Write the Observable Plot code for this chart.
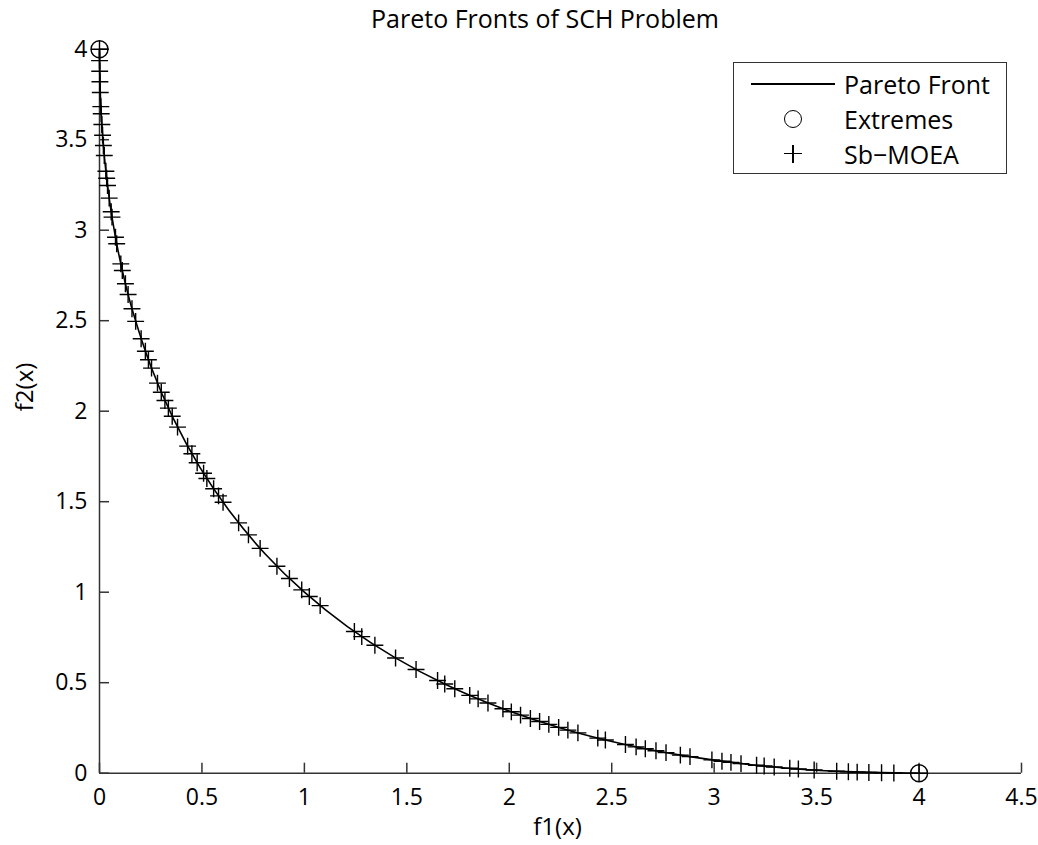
<!DOCTYPE html>
<html>
<head>
<meta charset="utf-8">
<script src="https://cdn.jsdelivr.net/npm/d3@7"></script>
<script src="https://cdn.jsdelivr.net/npm/@observablehq/plot@0.6"></script>
<style>
  html, body { margin: 0; padding: 0; background: #fff; }
  #wrap { position: relative; width: 1038px; height: 845px; font-family: "Open Sans", sans-serif; color: #000; }
  #title { position: absolute; left: 345px; width: 400px; top: 0; height: 36px; line-height: 36px; text-align: center; font-size: 25px; z-index: 2; }
  #chart { position: absolute; left: 0; top: 0; }
  #legend { position: absolute; left: 733px; top: 62px; width: 272px; height: 110px; border: 1.5px solid #333; background: #fff; font-size: 25px; z-index: 2; }
  .row { position: absolute; left: 0; height: 34px; width: 100%; }
  .row .lab { position: absolute; left: 110px; top: 0; line-height: 34px; }
  .sym { position: absolute; left: 17px; width: 84px; height: 34px; }
  .sym .line { position: absolute; left: 0; top: 16px; width: 84px; height: 1.5px; background: #000; }
  .sym .circ { position: absolute; left: 33px; top: 8px; width: 16px; height: 16px; border: 1.3px solid #000; border-radius: 50%; }
  .sym .ph { position: absolute; left: 33px; top: 16px; width: 18px; height: 1.4px; background: #000; }
  .sym .pv { position: absolute; left: 41.3px; top: 8px; width: 1.4px; height: 18px; background: #000; }
</style>
</head>
<body>
<div id="wrap">
  <div id="chart"></div>
  <div id="title">Pareto Fronts of SCH Problem</div>
  <div id="legend">
    <div class="row" style="top:4px"><div class="sym"><div class="line"></div></div><div class="lab">Pareto Front</div></div>
    <div class="row" style="top:39px"><div class="sym"><div class="circ"></div></div><div class="lab">Extremes</div></div>
    <div class="row" style="top:74px"><div class="sym"><div class="ph"></div><div class="pv"></div></div><div class="lab">Sb−MOEA</div></div>
  </div>
</div>
<script>
// Pareto front (line)
const frontF1 = [0, 0.0025, 0.01, 0.0225, 0.04, 0.0625, 0.09, 0.1225, 0.16, 0.25, 0.36, 0.49, 0.64, 0.81, 1.0, 1.21, 1.44, 1.69, 1.96, 2.25, 2.56, 2.89, 3.24, 3.61, 4.0];
const frontF2 = [4, 3.8025, 3.61, 3.4225, 3.24, 3.0625, 2.89, 2.7225, 2.56, 2.25, 1.96, 1.69, 1.44, 1.21, 1.0, 0.81, 0.64, 0.49, 0.36, 0.25, 0.16, 0.09, 0.04, 0.01, 0];

// Extremes (circles)
const extF1 = [0, 4];
const extF2 = [4, 0];

// Sb-MOEA solutions (plus markers)
const sbF1 = [0, 0.00025, 0.00094, 0.00207, 0.00368, 0.00655, 0.00834, 0.01143, 0.01501, 0.01897, 0.0233, 0.0311, 0.035, 0.0392, 0.0473, 0.057, 0.0611, 0.078, 0.0839, 0.104, 0.1113,
  0.1265, 0.1396, 0.1585, 0.1765, 0.2032, 0.2239, 0.2388, 0.254, 0.283, 0.3015, 0.3193, 0.3362, 0.3549, 0.3809, 0.4301, 0.4509, 0.4767,
  0.508, 0.524, 0.557, 0.581, 0.603, 0.679, 0.727, 0.784, 0.866, 0.927, 0.987, 1.024, 1.077, 1.244, 1.28, 1.344, 1.445, 1.545, 1.65,
  1.685, 1.734, 1.807, 1.848, 1.896, 1.969, 2.01, 2.055, 2.103, 2.148, 2.193, 2.241, 2.286, 2.335, 2.432, 2.469, 2.567, 2.619, 2.664, 2.716, 2.765, 2.835, 2.882,
  2.989, 3.038, 3.082, 3.131, 3.207, 3.244, 3.293, 3.369, 3.411, 3.488, 3.598, 3.655, 3.698, 3.755, 3.817, 3.877, 4.0];
const sbF2 = [4, 3.937, 3.878, 3.82, 3.761, 3.683, 3.643, 3.584, 3.525, 3.468, 3.413, 3.326, 3.287, 3.247, 3.177, 3.102, 3.072, 2.961, 2.925, 2.814, 2.777,
  2.704, 2.645, 2.566, 2.496, 2.4, 2.331, 2.284, 2.238, 2.155, 2.105, 2.059, 2.017, 1.972, 1.912, 1.807, 1.765, 1.715,
  1.6571, 1.6285, 1.5718, 1.5321, 1.4969, 1.383, 1.3165, 1.2423, 1.1436, 1.0758, 1.013, 0.9763, 0.9258, 0.7827, 0.7545, 0.7068, 0.6366, 0.573, 0.5119,
  0.4927, 0.4668, 0.4301, 0.4104, 0.3881, 0.3562, 0.3391, 0.3209, 0.3023, 0.2856, 0.2695, 0.253, 0.2381, 0.2227, 0.194, 0.1838, 0.1582, 0.1457, 0.1353, 0.1239, 0.1137, 0.1, 0.0914,
  0.0735, 0.066, 0.0597, 0.0531, 0.0438, 0.0396, 0.0343, 0.0271, 0.0234, 0.0175, 0.0107, 0.0078, 0.0059, 0.0039, 0.0021, 0.001, 0];

const xTicks = [0, 0.5, 1, 1.5, 2, 2.5, 3, 3.5, 4, 4.5];
const yTicks = [0, 0.5, 1, 1.5, 2, 2.5, 3, 3.5, 4];

const front = frontF1.map((f1, i) => ({f1, f2: frontF2[i]}));
const extremes = extF1.map((f1, i) => ({f1, f2: extF2[i]}));
const sb = sbF1.map((f1, i) => ({f1, f2: sbF2[i]}));

const W = 1038, H = 845, mL = 99, mR = 17, mT = 48.7, mB = 72.3;
const frameW = W - mL - mR, frameH = H - mT - mB;

const chart = Plot.plot({
  width: W, height: H,
  marginLeft: mL, marginRight: mR, marginTop: mT, marginBottom: mB,
  x: {domain: [0, 4.5]},
  y: {domain: [0, 4]},
  style: {fontFamily: "'Open Sans', sans-serif", fontSize: "23px", color: "#000", background: "#fff", overflow: "visible"},
  marks: [
    Plot.axisX({ticks: xTicks, tickFormat: d => String(d), tickSize: 0, tickPadding: 15, fontSize: 23, label: null}),
    Plot.axisY({ticks: yTicks, tickFormat: d => String(d), tickSize: 0, tickPadding: 12, fontSize: 23, label: null}),
    Plot.text(["f1(x)"], {frameAnchor: "bottom", dy: 62, dx: -3, fontSize: 24, fill: "#000"}),
    Plot.text(["f2(x)"], {frameAnchor: "left", dx: -74, rotate: -90, fontSize: 24, fill: "#000"}),
    Plot.ruleX(xTicks, {x: d => d, insetTop: frameH - 10, stroke: "#333", strokeWidth: 1.5}),
    Plot.ruleY(yTicks, {y: d => d, insetRight: frameW - 10, stroke: "#333", strokeWidth: 1.5}),
    Plot.ruleX([0], {stroke: "#333", strokeWidth: 1.5}),
    Plot.ruleY([0], {stroke: "#333", strokeWidth: 1.5}),
    Plot.line(front, {x: "f1", y: "f2", stroke: "#000", strokeWidth: 1.6, curve: "catmull-rom"}),
    Plot.dot(sb, {x: "f1", y: "f2", symbol: "plus", r: 5.5, stroke: "#000", strokeWidth: 1.4}),
    Plot.dot(extremes, {x: "f1", y: "f2", symbol: "circle", r: 8.5, stroke: "#000", strokeWidth: 1.4, fill: "none"})
  ]
});
document.getElementById("chart").appendChild(chart);
</script>
</body>
</html>
